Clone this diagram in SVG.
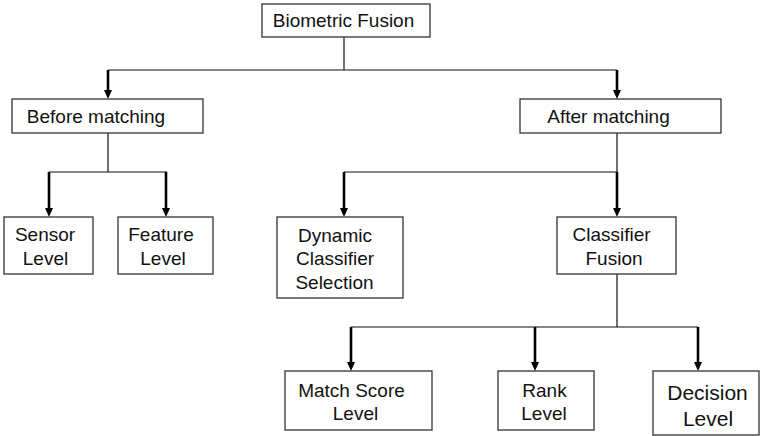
<svg xmlns="http://www.w3.org/2000/svg" width="760" height="436" viewBox="0 0 760 436">
<defs>
<style>
.box{fill:#fff;stroke:#333;stroke-width:1.3}
.t{font-family:"Liberation Sans",Arial,sans-serif;font-size:19px;fill:#111;text-anchor:middle}
.big{font-size:21px}
.thin{stroke:#111;stroke-width:1.2;fill:none}
.arr{stroke:#000;stroke-width:2.6;fill:none;marker-end:url(#ah)}
</style>
<marker id="ah" markerUnits="userSpaceOnUse" markerWidth="10" markerHeight="10" refX="0" refY="4" orient="auto">
<path d="M0,0 L9,4 L0,8 z" fill="#000"/>
</marker>
</defs>
<rect width="760" height="436" fill="#fff"/>
<g id="connectors">
<path class="thin" d="M344,37 V70 M108,70 H617 M108,133 V172 M49,172 H167 M617,133 V172 M344,172 H617 M617,274 V327 M351,327 H698"/>
<path class="arr" d="M108,70 V90"/>
<path class="arr" d="M617,70 V90"/>
<path class="arr" d="M49,172 V208"/>
<path class="arr" d="M166,172 V208"/>
<path class="arr" d="M344,172 V208"/>
<path class="arr" d="M617,172 V208"/>
<path class="arr" d="M351,327 V362"/>
<path class="arr" d="M535,327 V362"/>
<path class="arr" d="M698,327 V362"/>
</g>
<g id="biometric-fusion"><rect class="box" x="262" y="4" width="168" height="33"/><text class="t" x="343.5" y="27">Biometric Fusion</text></g>
<g id="before-matching"><rect class="box" x="12" y="99" width="191" height="34"/><text class="t" x="96" y="123">Before matching</text></g>
<g id="after-matching"><rect class="box" x="520" y="99" width="201" height="34"/><text class="t" x="608.5" y="123">After matching</text></g>
<g id="sensor-level"><rect class="box" x="4" y="217" width="89" height="57"/><text class="t" x="45" y="241">Sensor</text><text class="t" x="45.5" y="265">Level</text></g>
<g id="feature-level"><rect class="box" x="118" y="217" width="95" height="57"/><text class="t" x="161" y="241">Feature</text><text class="t" x="163" y="265">Level</text></g>
<g id="dynamic-classifier-selection"><rect class="box" x="277" y="217" width="126" height="81"/><text class="t" x="335" y="241.5">Dynamic</text><text class="t" x="335" y="265">Classifier</text><text class="t" x="334.5" y="289">Selection</text></g>
<g id="classifier-fusion"><rect class="box" x="557" y="217" width="119" height="57"/><text class="t" x="611.5" y="241">Classifier</text><text class="t" x="614" y="265">Fusion</text></g>
<g id="match-score-level"><rect class="box" x="285" y="371" width="147" height="59"/><text class="t" x="351.5" y="397">Match Score</text><text class="t" x="355.5" y="420">Level</text></g>
<g id="rank-level"><rect class="box" x="498" y="371" width="96" height="59"/><text class="t" x="544.5" y="397">Rank</text><text class="t" x="544" y="420">Level</text></g>
<g id="decision-level"><rect class="box" x="653" y="371" width="106" height="64"/><text class="t big" x="707.5" y="399.5">Decision</text><text class="t big" x="708" y="425.5">Level</text></g>
</svg>
